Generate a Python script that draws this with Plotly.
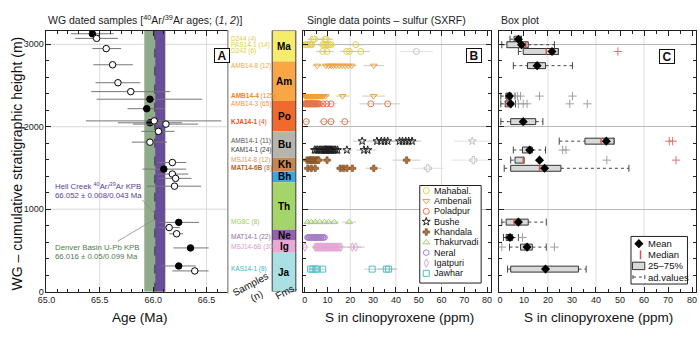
import plotly.graph_objects as go

W, H = 700, 338
FONT = "Liberation Sans, Arial, sans-serif"
YTOP = 3167

# ---------------- Panel A : 40Ar/39Ar ages ----------------
age = [65.43, 65.47, 65.56, 65.62, 65.67, 65.79, 65.97, 65.94, 66.01, 65.97, 66.12, 66.05, 65.97, 66.18,
       66.10, 66.18, 66.21, 66.20, 66.24, 66.15, 66.22, 66.35, 66.24, 66.39]
age_h = [3128, 3072, 2948, 2752, 2534, 2426, 2334, 2219, 2071, 2048, 2032, 1944, 1813, 1566,
         1486, 1426, 1374, 1279, 840, 777, 702, 530, 311, 251]
age_lo = [65.23, 65.27, 65.43, 65.44, 65.46, 65.42, 65.47, 65.76, 65.37, 65.67, 65.81, 65.89, 65.80, 66.04,
          65.90, 66.05, 66.05, 65.94, 66.05, 66.05, 66.15, 66.19, 66.07, 66.18]
age_hi = [65.63, 65.67, 65.70, 65.81, 65.88, 66.16, 66.46, 66.11, 66.64, 66.27, 66.42, 66.20, 66.13, 66.31,
          66.31, 66.33, 66.36, 66.45, 66.43, 66.25, 66.28, 66.52, 66.40, 66.52]
age_filled = [1, 0, 0, 0, 0, 0, 1, 1, 0, 1, 0, 0, 0, 0, 1, 0, 0, 0, 1, 0, 0, 1, 1, 0]

denver_age, denver_err = 66.016, 0.099
hc_band = [66.020, 66.112]

# ---------------- Formations column ----------------
fm_codes = ['Ma', 'Am', 'Po', 'Bu', 'Kh', 'Bh', 'Th', 'Ne', 'Ig', 'Ja']
fm_top = [3167, 2790, 2311, 1944, 1625, 1458, 1327, 749, 621, 470]
fm_base = [2790, 2311, 1944, 1625, 1458, 1327, 749, 621, 470, 0]
fm_fill = ['#f6ec6c', '#f8a646', '#ef6a2c', '#b5b5ad', '#c6864f', '#3ca7da', '#a5d46a', '#9760ae', '#e9a9d4', '#aadfe3']

# ---------------- Samples ----------------
sample_names = ['D244', 'PAS14-1', 'D242', 'AMB14-8', 'AMB14-4', 'AMB14-3', 'KJA14-1', 'AMB14-1', 'KAM14-1',
                'MSJ14-8', 'MAT14-6B', 'MG8C', 'MAT14-1', 'MSJ14-6B', 'KAS14-1']
sample_n = [4, 14, 6, 12, 125, 65, 4, 11, 24, 12, 8, 8, 22, 30, 8]
sample_h = [3062, 2995, 2913, 2741, 2372, 2278, 2062, 1825, 1718, 1595, 1496, 843, 657, 540, 273]
sample_fm = [0, 0, 0, 1, 1, 2, 2, 3, 3, 4, 4, 5, 6, 7, 8]
sample_bold = [0, 0, 0, 0, 1, 0, 1, 0, 0, 0, 1, 0, 0, 0, 0]
sample_color = ['#e3cc3a', '#e3cc3a', '#e3cc3a', '#f2a64a', '#f0861f', '#f0924c', '#e0521c', '#555555', '#3a3a3a',
                '#d09a66', '#a7672d', '#a3ca62', '#8a6ca4', '#e09ac8', '#3cb5c1']

# single-point S values (ppm) and 1-sigma errors per sample
D244 = [3.6, 4.3, 8.8, 9.5]
D244_e = [2.5, 2.5, 3.0, 3.0]
PAS14_1 = [0.2, 0.6, 1.0, 1.5, 2.2, 2.7, 3.1, 7.9, 8.6, 9.4, 10.1, 11.0, 11.6, 22.4]
PAS14_1_e = [1.5] * 7 + [2.5] * 6 + [4.0]
D242 = [7.9, 9.8, 18.4, 19.6, 24.6]
D242_e = [3.0, 3.0, 3.0, 3.0, 4.0]
AMB14_8 = [5.5, 9.3, 10.5, 11.7, 12.6, 13.8, 15.1, 16.4, 17.7, 19.1, 20.6, 30.3]
AMB14_8_e = [2.0] * 11 + [4.5]
AMB14_4 = [0.1, 0.3, 0.4, 0.6, 0.7, 0.9, 1.0, 1.2, 1.3, 1.5, 1.7, 1.8, 2.0, 2.1, 2.3, 2.5, 2.6, 2.8, 3.0, 3.1,
           3.3, 3.4, 3.6, 3.9, 4.1, 4.2, 4.5, 4.7, 4.8, 5.1, 5.3, 5.6, 5.8, 6.1, 6.4, 6.7, 7.0, 7.4, 7.9, 8.3,
           9.1, 16.6, 30.2]
AMB14_4_e = [1.2] * 40 + [2.0, 3.0, 5.0]
AMB14_3 = [0.2, 0.4, 0.7, 0.9, 1.1, 1.4, 1.6, 1.9, 2.1, 2.3, 2.6, 2.8, 3.0, 3.3, 3.5, 3.8, 4.0, 4.3, 4.6, 4.9,
           5.2, 5.6, 6.0, 6.5, 8.0, 9.6, 11.5, 29.0, 36.4]
AMB14_3_e = [1.2] * 24 + [2.0, 2.0, 2.5, 5.0, 5.5]
KJA14_1 = [0.7, 8.4, 11.5, 17.6]
KJA14_1_e = [1.5, 2.0, 2.0, 2.5]
AMB14_1 = [25.2, 31.7, 33.6, 35.0, 36.4, 41.6, 42.9, 44.3, 45.6, 47.1]
AMB14_1_e = [4.0] * 10
KAM14_1 = [4.3, 5.0, 5.7, 6.4, 7.0, 7.6, 8.2, 8.7, 9.1, 9.3, 9.5, 9.9, 10.3, 10.7, 11.1, 11.5, 11.9, 12.4,
           13.0, 13.6, 14.4, 18.5, 26.0, 27.6]
KAM14_1_e = [1.5] * 21 + [2.5, 3.5, 3.5]
MSJ14_8 = [1.0, 2.0, 2.5, 3.0, 3.6, 4.2, 5.0, 5.5, 6.2, 9.8, 44.7]
MSJ14_8_e = [1.5] * 9 + [2.0, 6.0]
MAT14_6B = [1.4, 2.9, 4.6, 15.6, 17.0, 18.5, 20.9, 30.3]
MAT14_6B_e = [1.5, 1.5, 1.5, 2.0, 2.0, 2.0, 2.0, 3.5]
MG8C = [1.2, 2.9, 4.6, 6.5, 8.7, 10.5, 13.0, 19.5]
MG8C_e = [1.0, 1.0, 1.2, 1.2, 1.5, 1.5, 2.0, 3.0]
MAT14_1 = [1.2, 1.7, 1.9, 2.5, 2.8, 3.0, 3.6, 3.7, 4.2, 4.4, 4.9, 5.0, 5.4, 5.7, 5.8, 6.3, 6.5, 7.1, 7.3, 7.9,
           8.2, 8.7]
MAT14_1_e = [1.0] * 22
MSJ14_6B = [0.1, 4.6, 4.9, 5.4, 5.9, 6.1, 6.3, 6.8, 7.2, 7.7, 8.1, 8.6, 9.0, 9.5, 9.9, 10.2, 10.7, 11.1, 11.6,
            12.0, 12.5, 12.9, 13.4, 13.9, 14.3, 14.8, 15.4, 15.9, 20.9, 22.4]
MSJ14_6B_e = [1.5] * 27 + [2.0, 4.0, 4.0]
KAS14_1 = [2.6, 3.6, 4.6, 5.5, 7.9, 29.6, 35.8, 36.8]
KAS14_1_e = [1.5, 1.5, 1.5, 1.5, 1.5, 3.5, 4.0, 4.0]

sample_vals = [D244, PAS14_1, D242, AMB14_8, AMB14_4, AMB14_3, KJA14_1, AMB14_1, KAM14_1,
               MSJ14_8, MAT14_6B, MG8C, MAT14_1, MSJ14_6B, KAS14_1]
sample_errs = [D244_e, PAS14_1_e, D242_e, AMB14_8_e, AMB14_4_e, AMB14_3_e, KJA14_1_e, AMB14_1_e, KAM14_1_e,
               MSJ14_8_e, MAT14_6B_e, MG8C_e, MAT14_1_e, MSJ14_6B_e, KAS14_1_e]

# points with large uncertainty (drawn pale)
faded_sample = [2, 7, 9, 10]
faded_val = [49.0, 73.5, 74.0, 54.0]
faded_err = [7.3, 8.0, 9.5, 7.0]

# formations legend
leg_names = ['Mahabal.', 'Ambenali', 'Poladpur', 'Bushe', 'Khandala', 'Thakurvadi', 'Neral', 'Igatpuri', 'Jawhar']
leg_colors = ['#e6d24a', '#f2a03e', '#e37744', '#1e1e1e', '#b5743c', '#a6d06c', '#a57fc4', '#e6a6d6', '#4fc1c9']
leg_symbols = ['circle-open', 'triangle-down-open', 'circle-open', 'star-open', 'cross',
               'triangle-up-open', 'hexagon-open', 'diamond-tall-open', 'square-open']

# ---------------- Panel C : box statistics ----------------
box_q1 = [5.9, 2.9, 9.7, 11.5, 2.5, 2.2, 4.5, 35.4, 9.4, 6.3, 4.5, 2.6, 2.6, 8.6, 4.5]
box_med = [7.5, 10.8, 19.3, 15.8, 3.6, 3.1, 9.7, 42.1, 12.4, 9.7, 16.5, 5.9, 4.3, 11.1, 19.0]
box_q3 = [9.0, 11.8, 24.3, 19.0, 4.9, 4.9, 14.9, 47.5, 13.5, 10.0, 25.4, 11.8, 5.3, 13.5, 32.7]
box_mean = [7.7, 9.0, 21.7, 15.5, 4.0, 4.5, 9.7, 44.3, 12.4, 16.5, 18.6, 7.7, 4.2, 11.3, 19.0]
box_lo = [4.2, 0.8, 7.7, 5.6, 0.4, 0.4, 0.4, 24.7, 5.6, 4.5, 1.8, 0.8, 1.5, 4.0, 3.2]
box_hi = [9.0, 22.7, 24.3, 30.2, 6.3, 6.5, 17.9, 47.5, 19.0, 10.0, 53.7, 19.3, 7.7, 19.3, 35.9]
out_sample = [2, 4, 4, 4, 4, 5, 5, 5, 5, 5, 7, 7, 8, 8, 9, 9, 12, 13, 13]
out_val = [49.1, 7.3, 8.6, 16.5, 30.2, 7.7, 9.7, 11.3, 29.1, 36.4, 70.5, 71.9, 26.1, 27.5, 44.5, 73.3, 9.4, 0.8, 22.7]
out_extreme = [1, 0, 0, 0, 0, 0, 0, 0, 0, 0, 1, 1, 0, 0, 0, 1, 0, 0, 0]

grid_ppm = [20, 40, 60]
grid_age = [65.5, 66.0, 66.5]
grid_h = [1000, 2000, 3000]


def fx(p):
    return p / W


def fy(p):
    return 1 - p / H


fig = go.Figure()

# ----- Panel A traces -----
for filled in (1, 0):
    idx = [i for i in range(len(age)) if age_filled[i] == filled]
    fig.add_trace(go.Scatter(
        x=[age[i] for i in idx], y=[age_h[i] for i in idx], mode='markers',
        error_x=dict(type='data', symmetric=False,
                     array=[age_hi[i] - age[i] for i in idx],
                     arrayminus=[age[i] - age_lo[i] for i in idx],
                     color='#767676', thickness=1, width=0),
        marker=dict(symbol='circle', size=6.5, color='black' if filled else 'white',
                    line=dict(color='black', width=1)),
        xaxis='x', yaxis='y', showlegend=False, hoverinfo='skip'))

# ----- Panel B traces -----
fig.add_trace(go.Scatter(
    x=faded_val, y=[sample_h[s] for s in faded_sample], mode='markers',
    error_x=dict(type='data', array=faded_err, color='#dadada', thickness=0.8, width=0),
    marker=dict(symbol=[leg_symbols[sample_fm[s]] if leg_symbols[sample_fm[s]] != 'cross' else 'cross-open'
                        for s in faded_sample],
                size=6, color='#c4c4c4', line=dict(color='#c4c4c4', width=1)),
    xaxis='x2', yaxis='y2', showlegend=False, hoverinfo='skip'))

for f in range(len(leg_names)):
    xs, ys, es = [], [], []
    for s in range(len(sample_names)):
        if sample_fm[s] == f:
            xs += sample_vals[s]
            es += sample_errs[s]
            ys += [sample_h[s]] * len(sample_vals[s])
    filled = leg_symbols[f] == 'cross'
    fig.add_trace(go.Scatter(
        x=xs, y=ys, mode='markers',
        error_x=dict(type='data', array=es, color='#bdbdbd', thickness=0.8, width=0),
        marker=dict(symbol=leg_symbols[f], size=5.5 if filled else 6, color=leg_colors[f],
                    line=dict(color='#6e4420' if filled else leg_colors[f], width=0.6 if filled else 1)),
        xaxis='x2', yaxis='y2', showlegend=False, hoverinfo='skip'))

# ----- Panel C traces -----
BH = 36
wx, wy, cx, cy = [], [], [], []
for i in range(len(sample_names)):
    h = sample_h[i]
    wx += [box_lo[i], box_q1[i], None, box_q3[i], box_hi[i], None]
    wy += [h, h, None, h, h, None]
    cx += [box_lo[i], box_hi[i]]
    cy += [h, h]
fig.add_trace(go.Scatter(x=wx, y=wy, mode='lines', line=dict(color='#444', width=1, dash='dot'),
                         xaxis='x3', yaxis='y3', showlegend=False, hoverinfo='skip'))
fig.add_trace(go.Scatter(x=cx, y=cy, mode='markers',
                         marker=dict(symbol='line-ns-open', size=5, color='#444', line=dict(color='#444', width=1)),
                         xaxis='x3', yaxis='y3', showlegend=False, hoverinfo='skip'))
for i in range(len(sample_names)):
    h = sample_h[i]
    fig.add_trace(go.Scatter(
        x=[box_q1[i], box_q3[i], box_q3[i], box_q1[i], box_q1[i]],
        y=[h - BH, h - BH, h + BH, h + BH, h - BH], mode='lines', fill='toself',
        fillcolor='#d9d9d9', line=dict(color='#333', width=1),
        xaxis='x3', yaxis='y3', showlegend=False, hoverinfo='skip'))
mx, my = [], []
for i in range(len(sample_names)):
    mx += [box_med[i], box_med[i], None]
    my += [sample_h[i] - BH, sample_h[i] + BH, None]
fig.add_trace(go.Scatter(x=mx, y=my, mode='lines', line=dict(color='#d9534f', width=1.5),
                         xaxis='x3', yaxis='y3', showlegend=False, hoverinfo='skip'))
fig.add_trace(go.Scatter(x=box_mean, y=sample_h, mode='markers',
                         marker=dict(symbol='diamond', size=7, color='black'),
                         xaxis='x3', yaxis='y3', showlegend=False, hoverinfo='skip'))
for ext, col in ((0, '#a0a0a0'), (1, '#e07070')):
    ii = [k for k in range(len(out_val)) if out_extreme[k] == ext]
    fig.add_trace(go.Scatter(x=[out_val[k] for k in ii], y=[sample_h[out_sample[k]] for k in ii],
                             mode='markers',
                             marker=dict(symbol='cross-thin-open', size=6, color=col, line=dict(color=col, width=1)),
                             xaxis='x3', yaxis='y3', showlegend=False, hoverinfo='skip'))

# ----- legends (overlay pixel axes) -----
LB_top, LB_step, LB_gx, LB_tx = 193.5, 10.5, 423.3, 429
for f in range(len(leg_names)):
    yy = LB_top + LB_step * f
    filled = leg_symbols[f] == 'cross'
    fig.add_trace(go.Scatter(x=[LB_gx], y=[yy], mode='markers',
                             marker=dict(symbol=leg_symbols[f], size=5.5 if filled else 6, color=leg_colors[f],
                                         line=dict(color='#6e4420' if filled else leg_colors[f],
                                                   width=0.6 if filled else 1)),
                             xaxis='x4', yaxis='y4', showlegend=False, hoverinfo='skip'))
LC_rows = [247.3, 258.6, 269.9, 281.2]
fig.add_trace(go.Scatter(x=[639], y=[LC_rows[0]], mode='markers',
                         marker=dict(symbol='diamond', size=7, color='black'),
                         xaxis='x4', yaxis='y4', showlegend=False, hoverinfo='skip'))

shapes = []
annotations = []

# panel A gridlines, then KPB bands (all beneath the data)
for g in grid_age:
    shapes.append(dict(type='line', xref='x', yref='y domain', x0=g, x1=g, y0=0, y1=1,
                       line=dict(color='#dcdcdc', width=1), layer='below'))
for g in grid_h:
    shapes.append(dict(type='line', xref='x domain', yref='y', x0=0, x1=1, y0=g, y1=g,
                       line=dict(color='#d8d8d8', width=1), layer='below'))
shapes.append(dict(type='rect', xref='x', yref='y domain', x0=denver_age - denver_err, x1=denver_age + denver_err,
                   y0=0, y1=1, fillcolor='#8fab8b', line=dict(width=0), layer='below'))
shapes.append(dict(type='rect', xref='x', yref='y domain', x0=hc_band[0], x1=hc_band[1],
                   y0=0, y1=1, fillcolor='#6a4c9c', line=dict(width=0), layer='below'))
shapes.append(dict(type='line', xref='x', yref='y domain', x0=denver_age, x1=denver_age, y0=0, y1=1,
                   line=dict(color='#2c2c3c', width=1, dash='dash'), layer='below'))
shapes.append(dict(type='line', xref='x', yref='y', x0=65.898, y0=1111, x1=66.019, y1=944,
                   line=dict(color='#8a8a8a', width=0.8), layer='below'))
shapes.append(dict(type='line', xref='x', yref='y', x0=65.667, y0=610, x1=66.006, y1=872,
                   line=dict(color='#8a8a8a', width=0.8), layer='below'))

# vertical gridlines in B and C
for g in grid_ppm:
    for ax in ('x2', 'x3'):
        shapes.append(dict(type='line', xref=ax, yref='y%s domain' % ax[1], x0=g, x1=g, y0=0, y1=1,
                           line=dict(color='#dedede', width=1), layer='below'))

# formation column
for k in range(len(fm_codes)):
    shapes.append(dict(type='rect', xref='paper', yref='y', x0=fx(267), x1=fx(291),
                       y0=fm_base[k], y1=fm_top[k], fillcolor=fm_fill[k], line=dict(width=0), layer='above'))
    annotations.append(dict(xref='paper', yref='y', x=fx(279), y=(fm_base[k] + fm_top[k]) / 2,
                            text='<b>%s</b>' % fm_codes[k], showarrow=False,
                            font=dict(size=10, color='black', family=FONT)))
shapes.append(dict(type='rect', xref='paper', yref='y', x0=fx(267), x1=fx(291), y0=0, y1=YTOP,
                   line=dict(color='#3a3a3a', width=1), layer='above'))
shapes.append(dict(type='line', xref='paper', yref='paper', x0=fx(222), x1=fx(222), y0=fy(298), y1=fy(31),
                   line=dict(color='#9a9a9a', width=1.5), layer='above'))

# legend boxes and glyphs (pixel overlay)
shapes.append(dict(type='rect', xref='x4', yref='y4', x0=416.7, x1=479, y0=188.3, y1=287.3,
                   fillcolor='white', line=dict(color='#222', width=1), layer='below'))
shapes.append(dict(type='rect', xref='x4', yref='y4', x0=631, x1=688.3, y0=240, y1=288.3,
                   fillcolor='white', line=dict(color='#222', width=1), layer='below'))
shapes.append(dict(type='line', xref='x4', yref='y4', x0=640.7, x1=640.7, y0=LC_rows[1] - 4.5,
                   y1=LC_rows[1] + 4.5, line=dict(color='#d9534f', width=1.5), layer='below'))
shapes.append(dict(type='rect', xref='x4', yref='y4', x0=632.5, x1=645, y0=LC_rows[2] - 3.8,
                   y1=LC_rows[2] + 3.8, fillcolor='#d9d9d9', line=dict(color='#333', width=1), layer='below'))
shapes.append(dict(type='line', xref='x4', yref='y4', x0=633, x1=645, y0=LC_rows[3], y1=LC_rows[3],
                   line=dict(color='#444', width=1, dash='dot'), layer='below'))
for xc in (633, 645):
    shapes.append(dict(type='line', xref='x4', yref='y4', x0=xc, x1=xc, y0=LC_rows[3] - 2, y1=LC_rows[3] + 2,
                       line=dict(color='#444', width=1), layer='below'))

for f in range(len(leg_names)):
    annotations.append(dict(xref='paper', yref='paper', x=fx(LB_tx), y=fy(LB_top + LB_step * f),
                            xanchor='left', yanchor='middle', text=leg_names[f], showarrow=False,
                            font=dict(size=9, color='#111', family=FONT)))
for k, t in enumerate(['Mean', 'Median', '25–75%', 'ad.values']):
    annotations.append(dict(xref='paper', yref='paper', x=fx(646.5), y=fy(LC_rows[k]),
                            xanchor='left', yanchor='middle', text=t, showarrow=False,
                            font=dict(size=9.5, color='#111', family=FONT)))

# sample labels
for s in range(len(sample_names)):
    nm = '<b>%s</b>' % sample_names[s] if sample_bold[s] else sample_names[s]
    annotations.append(dict(xref='paper', yref='y', x=fx(223.5), y=sample_h[s], xanchor='left',
                            yanchor='middle', text='%s (%d)' % (nm, sample_n[s]), showarrow=False,
                            font=dict(size=6.5, color=sample_color[s], family=FONT)))

# titles and axis labels
for txt, px_ in (('WG dated samples [<sup>40</sup>Ar/<sup>39</sup>Ar ages; (<i>1</i>, <i>2</i>)]', 38),
                 ('Single data points – sulfur (SXRF)', 300), ('Box plot', 497)):
    annotations.append(dict(xref='paper', yref='paper', x=fx(px_), y=fy(20), xanchor='left', yanchor='middle',
                            text=txt, showarrow=False, font=dict(size=10.5, color='#222', family=FONT)))
for txt, px_ in (('Age (Ma)', 133), ('S in clinopyroxene (ppm)', 396), ('S in clinopyroxene (ppm)', 598)):
    annotations.append(dict(xref='paper', yref='paper', x=fx(px_), y=fy(322), xanchor='center',
                            yanchor='middle', text=txt, showarrow=False,
                            font=dict(size=13.5, color='#111', family=FONT)))
annotations.append(dict(xref='paper', yref='paper', x=fx(8), y=fy(166), textangle=-90, xanchor='center',
                        yanchor='middle', text='WG – cumulative stratigraphic height (m)', showarrow=False,
                        font=dict(size=14, color='#111', family=FONT)))
annotations.append(dict(xref='paper', yref='paper', x=fx(248), y=fy(317), textangle=-28,
                        text='Samples<br>(n)', showarrow=False, font=dict(size=10, color='#111', family=FONT)))
annotations.append(dict(xref='paper', yref='paper', x=fx(281), y=fy(309), textangle=-28,
                        text='Fms.', showarrow=False, font=dict(size=10, color='#111', family=FONT)))

# KPB notes
for txt, yy, col in (('Hell Creek <sup>40</sup>Ar/<sup>39</sup>Ar KPB', 189, '#5b3d8f'),
                     ('66.052 ± 0.008/0.043 Ma', 198.5, '#5b3d8f'),
                     ('Denver Basin U-Pb KPB', 251, '#4f7d4c'),
                     ('66.016 ± 0.05/0.099 Ma', 260.5, '#4f7d4c')):
    annotations.append(dict(xref='paper', yref='paper', x=fx(45), y=fy(yy), xanchor='left', yanchor='middle',
                            text=txt, showarrow=False, font=dict(size=7.8, color=col, family=FONT)))

# panel letters
for L, px_, py_ in (('A', 207.5, 49), ('B', 480, 49), ('C', 676, 49.5)):
    annotations.append(dict(xref='paper', yref='paper', x=fx(px_), y=fy(py_), text='<b>%s</b>' % L,
                            showarrow=False, bordercolor='#111', borderwidth=1, borderpad=1,
                            bgcolor='white', width=12, height=11,
                            font=dict(size=12, color='#111', family=FONT)))

ydom = [fy(296), fy(31)]
ybase = dict(range=[0, YTOP], domain=ydom, tickvals=[0, 1000, 2000, 3000], ticks='inside', ticklen=5,
             tickcolor='#222', minor=dict(dtick=200, tick0=0, ticks='inside', ticklen=3, tickcolor='#222'),
             gridwidth=1, zeroline=False, showline=True, linecolor='#222', linewidth=1,
             tickfont=dict(size=9, color='#222', family=FONT), fixedrange=True)
xppm = dict(tickvals=list(range(0, 81, 10)), ticks='inside', ticklen=5, tickcolor='#222',
            minor=dict(dtick=5, tick0=0, ticks='inside', ticklen=3, tickcolor='#222'),
            showgrid=False, zeroline=False, showline=True, linecolor='#222', linewidth=1, mirror='ticks',
            tickfont=dict(size=9, color='#222', family=FONT), fixedrange=True)

fig.update_layout(
    width=W, height=H, margin=dict(l=0, r=0, t=0, b=0),
    paper_bgcolor='white', plot_bgcolor='rgba(0,0,0,0)',
    font=dict(family=FONT, size=9, color='#222'),
    showlegend=False,
    xaxis=dict(domain=[fx(38), fx(222)], range=[65, 66.7], anchor='y',
               tickvals=[65, 65.5, 66, 66.5], ticktext=['65.0', '65.5', '66.0', '66.5'],
               ticks='inside', ticklen=5, tickcolor='#222',
               minor=dict(dtick=0.1, tick0=65, ticks='inside', ticklen=3, tickcolor='#222'),
               showgrid=False, zeroline=False, showline=True, linecolor='#222',
               linewidth=1, mirror='ticks', tickfont=dict(size=9, color='#222', family=FONT), fixedrange=True),
    yaxis=dict(ybase, anchor='x', mirror=False, showgrid=False),
    xaxis2=dict(xppm, domain=[fx(298), fx(489)], range=[-0.86, 81.73], anchor='y2'),
    yaxis2=dict(ybase, anchor='x2', mirror='ticks', showticklabels=False, showgrid=True, gridcolor='#b8b8b8'),
    xaxis3=dict(xppm, domain=[fx(497), fx(697)], range=[-0.41, 81.64], anchor='y3'),
    yaxis3=dict(ybase, anchor='x3', mirror='ticks', showticklabels=False, showgrid=True, gridcolor='#b8b8b8'),
    xaxis4=dict(domain=[0, 1], range=[0, W], visible=False, anchor='y4', fixedrange=True),
    yaxis4=dict(domain=[0, 1], range=[H, 0], visible=False, anchor='x4', fixedrange=True),
    shapes=shapes, annotations=annotations,
)

fig.write_html("out.html")
